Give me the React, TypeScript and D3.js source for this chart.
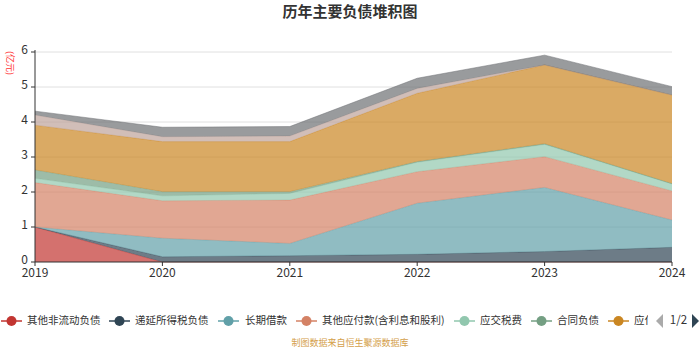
import React from "react";
import * as d3 from "d3";

const years = ["2019", "2020", "2021", "2022", "2023", "2024"];
const seriesNames = [
  "其他非流动负债",
  "递延所得税负债",
  "长期借款",
  "其他应付款(含利息和股利)",
  "应交税费",
  "合同负债",
  "应付账款",
  "应付票据",
  "短期借款",
];
const colors = ["#c23531", "#2f4554", "#61a0a8", "#d48265", "#91c7ae", "#749f83", "#ca8622", "#bda29a", "#6e7074"];
const s0 = [1.0, 0, 0, 0, 0, 0];
const s1 = [0, 0.15, 0.18, 0.22, 0.3, 0.42];
const s2 = [0, 0.53, 0.35, 1.46, 1.83, 0.78];
const s3 = [1.27, 1.07, 1.24, 0.9, 0.88, 0.83];
const s4 = [0.12, 0.14, 0.19, 0.27, 0.35, 0.2];
const s5 = [0.24, 0.12, 0.05, 0.02, 0.02, 0.01];
const s6 = [1.28, 1.43, 1.43, 1.95, 2.25, 2.53];
const s7 = [0.29, 0.14, 0.16, 0.14, 0.0, 0.0];
const s8 = [0.11, 0.27, 0.27, 0.29, 0.28, 0.24];
const seriesValues = [s0, s1, s2, s3, s4, s5, s6, s7, s8];
const yTicks = [0, 1, 2, 3, 4, 5, 6];

export default function App() {
  const W = 700, H = 350;
  const left = 35, right = 672, top = 52, bottom = 262;
  const x = d3.scalePoint<string>().domain(years).range([left, right]);
  const y = d3.scaleLinear().domain([0, 6]).range([bottom, top]);

  const table = years.map((yr, i) => {
    const row: any = { year: yr };
    seriesNames.forEach((n, k) => (row[n] = seriesValues[k][i]));
    return row;
  });
  const stacked = d3.stack<any>().keys(seriesNames)(table);
  const area = d3
    .area<any>()
    .x((d) => x(d.data.year)!)
    .y0((d) => y(d[0]))
    .y1((d) => y(d[1]));
  const line = d3
    .line<any>()
    .x((d) => x(d.data.year)!)
    .y((d) => y(d[1]));

  const font = "'Microsoft YaHei', 'Noto Sans CJK SC', sans-serif";
  const legendItems = [
    { x: 1, tx: 27 },
    { x: 109, tx: 135 },
    { x: 218, tx: 245 },
    { x: 296, tx: 322 },
    { x: 454, tx: 480 },
    { x: 531, tx: 557 },
    { x: 608, tx: 634 },
  ];
  const ly = 321;

  return (
    <svg width={W} height={H} style={{ position: "absolute", left: 0, top: 0, background: "#fff" }} fontFamily={font}>
      <defs>
        <clipPath id="legclip">
          <rect x={0} y={300} width={648} height={40} />
        </clipPath>
      </defs>
      <text x={350} y={17} textAnchor="middle" fontSize={15} fontWeight="bold" fill="#333">
        历年主要负债堆积图
      </text>
      <text
        transform={`translate(9, 63) rotate(90)`}
        textAnchor="middle"
        fontSize={9}
        fill="#ff3333"
        dominantBaseline="middle"
      >
        (亿元)
      </text>
      {yTicks.map((t) => (
        <g key={t}>
          {t > 0 && <line x1={left} x2={right} y1={y(t)} y2={y(t)} stroke="#e0e0e0" strokeWidth={1} />}
          <line x1={left - 4} x2={left} y1={y(t)} y2={y(t)} stroke="#333" />
          <text x={left - 7} y={y(t) - 1} textAnchor="end" dominantBaseline="middle" fontSize={12} fill="#333">
            {t}
          </text>
        </g>
      ))}
      {stacked.map((s, k) => (
        <g key={k}>
          <path d={area(s) || ""} fill={colors[k]} fillOpacity={0.7} />
          <path d={line(s) || ""} fill="none" stroke={colors[k]} strokeOpacity={0.5} strokeWidth={1} />
        </g>
      ))}
      <line x1={left} x2={left} y1={top - 2} y2={bottom} stroke="#333" />
      <line x1={left} x2={right} y1={bottom} y2={bottom} stroke="#333" />
      {years.map((yr) => (
        <g key={yr}>
          <line x1={x(yr)} x2={x(yr)} y1={bottom} y2={bottom + 4} stroke="#333" />
          <text x={x(yr)} y={bottom + 15} textAnchor="middle" fontSize={12} fill="#333">
            {yr}
          </text>
        </g>
      ))}
      <g clipPath="url(#legclip)">
        {legendItems.map((it, k) => (
          <g key={k}>
            <line x1={it.x} x2={it.x + 21} y1={ly} y2={ly} stroke={colors[k]} strokeWidth={1.5} />
            <circle cx={it.x + 10.5} cy={ly} r={5} fill={colors[k]} />
            <text x={it.tx} y={ly} dominantBaseline="middle" fontSize={10.5} fill="#333">
              {seriesNames[k]}
            </text>
          </g>
        ))}
      </g>
      <path d={`M663,314 L663,328 L656,321 Z`} fill="#aaa" />
      <text x={678.5} y={ly} textAnchor="middle" dominantBaseline="middle" fontSize={11.5} fill="#333">
        1/2
      </text>
      <path d={`M692,314 L692,328 L699,321 Z`} fill="#2f4554" />
      <text x={350} y={346} textAnchor="middle" fontSize={9} fill="#d4a04a">
        制图数据来自恒生聚源数据库
      </text>
    </svg>
  );
}
